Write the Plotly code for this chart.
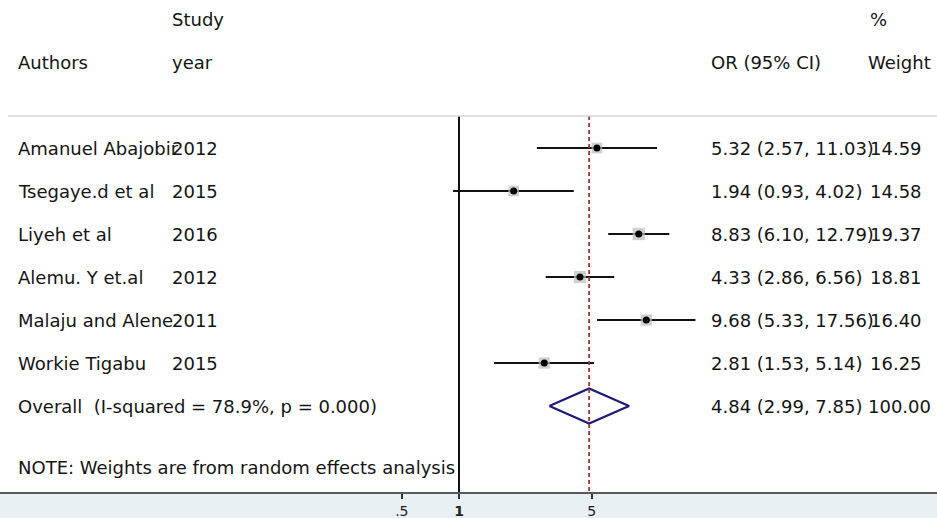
import plotly.graph_objects as go

# Study-level data
authors = ["Amanuel Abajobir", "Tsegaye.d et al", "Liyeh et al",
           "Alemu. Y et.al", "Malaju and Alene", "Workie Tigabu"]
years = ["2012", "2015", "2016", "2012", "2011", "2015"]
odds_ratio = [5.32, 1.94, 8.83, 4.33, 9.68, 2.81]
ci_lower = [2.57, 0.93, 6.10, 2.86, 5.33, 1.53]
ci_upper = [11.03, 4.02, 12.79, 6.56, 17.56, 5.14]
weights = [14.59, 14.58, 19.37, 18.81, 16.40, 16.25]

# Pooled (random effects) estimate
overall_label = "Overall  (I-squared = 78.9%, p = 0.000)"
overall_or = 4.84
overall_lower = 2.99
overall_upper = 7.85
overall_weight = 100.00

note_text = "NOTE: Weights are from random effects analysis"
tick_values = [0.5, 1, 5]
tick_labels = [".5", "<b>1</b>", "5"]

W, H = 937, 518
TEXT_FONT = dict(family="DejaVu Sans", size=18, color="#141414")

n = len(authors)
rows = list(range(n))
overall_row = n
top_rule = -0.744
axis_bottom = 8.0
text_shift = 0.0

fig = go.Figure()

# reference line at OR = 1
fig.add_trace(go.Scatter(x=[1, 1], y=[top_rule, axis_bottom], mode="lines",
                         line=dict(color="#111111", width=2), hoverinfo="skip"))

# confidence interval whiskers
cx, cy = [], []
for lo, hi, r in zip(ci_lower, ci_upper, rows):
    cx += [lo, hi, None]
    cy += [r, r, None]
fig.add_trace(go.Scatter(x=cx, y=cy, mode="lines",
                         line=dict(color="#111111", width=2), hoverinfo="skip"))

# weight boxes
fig.add_trace(go.Scatter(x=odds_ratio, y=rows, mode="markers",
                         marker=dict(symbol="square", color="#bcbcbc",
                                     size=[2.8 * w ** 0.5 for w in weights],
                                     line=dict(width=0)),
                         hoverinfo="skip"))
# point estimates
fig.add_trace(go.Scatter(x=odds_ratio, y=rows, mode="markers",
                         marker=dict(symbol="circle", color="#000000", size=7),
                         hoverinfo="skip"))

# pooled estimate diamond
half = 0.41
fig.add_trace(go.Scatter(
    x=[overall_lower, overall_or, overall_upper, overall_or, overall_lower],
    y=[overall_row, overall_row - half, overall_row, overall_row + half, overall_row],
    mode="lines", line=dict(color="#1c1c78", width=2.2), hoverinfo="skip"))

# dashed line at pooled estimate
fig.add_trace(go.Scatter(x=[overall_or, overall_or], y=[top_rule, axis_bottom],
                         mode="lines",
                         line=dict(color="#a83232", width=1.8, dash="4px,3px"),
                         hoverinfo="skip"))

def px(x):
    return x / W

ann = []
def label(x, y, text, font=TEXT_FONT):
    ann.append(dict(x=px(x), y=y + text_shift, xref="paper", yref="y", text=text,
                    showarrow=False, xanchor="left", yanchor="middle", font=font))

# column headers
label(170, -3, "Study")
label(868, -3, "%")
label(16, -2, "Authors")
label(170, -2, "year")
label(709, -2, "OR (95% CI)")
label(866, -2, "Weight")

for r in rows:
    label(16, r, authors[r])
    label(170, r, years[r])
    label(709, r, f"{odds_ratio[r]:.2f} ({ci_lower[r]:.2f}, {ci_upper[r]:.2f})")
    label(868, r, f"{weights[r]:.2f}")

label(16, overall_row, overall_label)
label(709, overall_row, f"{overall_or:.2f} ({overall_lower:.2f}, {overall_upper:.2f})")
label(866, overall_row, f"{overall_weight:.2f}")
label(16, 7.44, note_text)

fig.update_layout(
    width=W, height=H,
    margin=dict(l=0, r=0, t=0, b=26),
    paper_bgcolor="#e8f0f3",
    plot_bgcolor="#ffffff",
    showlegend=False,
    annotations=ann,
    shapes=[dict(type="line", xref="paper", yref="y", x0=8 / W, x1=1,
                 y0=top_rule, y1=top_rule, line=dict(color="#d4d4d4", width=1.5))],
    xaxis=dict(type="log", range=[-2.4158, 2.5158], showgrid=False, zeroline=False,
               showline=True, linecolor="#5a5a5a", linewidth=2,
               ticks="outside", ticklen=5, tickwidth=2, tickcolor="#333333",
               tickvals=tick_values, ticktext=tick_labels,
               ticklabelstandoff=0, automargin=False,
               tickfont=dict(family="DejaVu Sans", size=14, color="#222222"),
               fixedrange=True),
    yaxis=dict(range=[axis_bottom, -3.442], visible=False, fixedrange=True,
               automargin=False),
)

fig.write_html("out.html")
